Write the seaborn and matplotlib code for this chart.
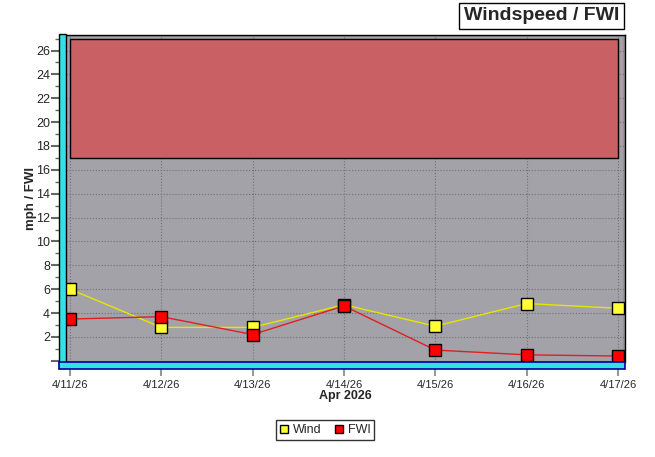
import numpy as np
import pandas as pd
import matplotlib
matplotlib.use("Agg")
import matplotlib.pyplot as plt
import seaborn as sns
from matplotlib.patches import Rectangle
from matplotlib.lines import Line2D

# donnees
dates = ["4/11/26", "4/12/26", "4/13/26", "4/14/26", "4/15/26", "4/16/26", "4/17/26"]
wind = [6.0, 2.8, 2.8, 4.7, 2.9, 4.8, 4.4]
fwi = [3.5, 3.7, 2.2, 4.6, 0.9, 0.5, 0.4]
band_low, band_high = 17, 27

df = pd.DataFrame({"day": list(range(len(dates))) * 2,
                   "value": wind + fwi,
                   "serie": ["Wind"] * len(dates) + ["FWI"] * len(dates)})

sns.set_style("white")
plt.rcParams['font.family'] = ['Liberation Sans', 'DejaVu Sans']

W, H = 655, 457
fig = plt.figure(figsize=(W / 100, H / 100), dpi=100)
ax = fig.add_axes([66 / W, (H - 362) / H, (625 - 66) / W, (362 - 35) / H])
ax.set_facecolor("#a3a2a8")

# zone rouge
ax.add_patch(Rectangle((0, band_low), 6, band_high - band_low,
                       facecolor="#c86064", edgecolor="black", lw=1, zorder=1))

palette = {"Wind": "#ffff33", "FWI": "#ff0000"}
linecols = {"Wind": "#e6e600", "FWI": "#e02020"}
for s in ["Wind", "FWI"]:
    sub = df[df.serie == s]
    sns.lineplot(data=sub, x="day", y="value", ax=ax, color=linecols[s], lw=1,
                 marker="s", markersize=8, markerfacecolor=palette[s],
                 markeredgecolor="black", markeredgewidth=1, zorder=3)

ax.set_xlim(-0.044, 6.077)
ax.set_ylim(-0.1, 27.3)
ax.set_xticks(range(len(dates)))
ax.set_xticklabels(dates, fontsize=8)
ax.set_yticks(range(0, 27, 2))
ax.set_yticklabels([""] + [str(v) for v in range(2, 27, 2)], fontsize=9)
ax.set_yticks(range(0, 28), minor=True)
ax.tick_params(axis="y", which="major", left=True, length=10.5, width=1.5, color="#666666", pad=1)
ax.tick_params(axis="y", which="minor", left=True, length=8, width=1, color="#666666")
ax.tick_params(axis="x", bottom=True, length=10, width=1.5, color="#999999", pad=3)
ax.grid(True, color="#707070", ls=":", lw=0.8)
ax.set_axisbelow(True)
for sp in ax.spines.values():
    sp.set_color("black")
    sp.set_linewidth(1)
ax.spines["left"].set_visible(False)
ax.spines["bottom"].set_visible(False)

ax.set_xlabel("Apr 2026", fontsize=9, fontweight="bold", labelpad=0)
ax.set_ylabel("mph / FWI", fontsize=9.5, fontweight="bold")
ax.yaxis.set_label_coords(-0.052, 0.5)

# cadre gris haut/droite
ax.axhline(27.3, color="#959595", lw=3, zorder=0.5)
ax.axvline(6.077, color="#959595", lw=3, zorder=0.5)

# murs cyan
fig.patches.append(Rectangle((59 / W, (H - 368) / H), 7 / W, (368 - 34) / H,
                             transform=fig.transFigure, facecolor="#33e0e8",
                             edgecolor="black", lw=1))
fig.patches.append(Rectangle((59 / W, (H - 369) / H), (625 - 59) / W, 7 / H,
                             transform=fig.transFigure, facecolor="#33e0e8",
                             edgecolor="#0000a0", lw=1.2))

# titre
fig.text(619 / W, (H - 16) / H, "Windspeed / FWI", ha="right", va="center",
         fontsize=14, fontweight="bold",
         bbox=dict(boxstyle="square,pad=0.25", facecolor="white", edgecolor="black", lw=1))

# legende
handles = [Line2D([], [], ls="none", marker="s", markersize=6, markerfacecolor=palette[s],
                  markeredgecolor="black") for s in ["Wind", "FWI"]]
fig.legend(handles, ["Wind", "FWI"], loc="center", bbox_to_anchor=(325 / W, (H - 430) / H),
           ncol=2, fontsize=9, frameon=True, fancybox=False, edgecolor="black",
           handlelength=0.8, handletextpad=0.3, columnspacing=1.0, borderpad=0.3)

plt.savefig("out.png", dpi=100)
